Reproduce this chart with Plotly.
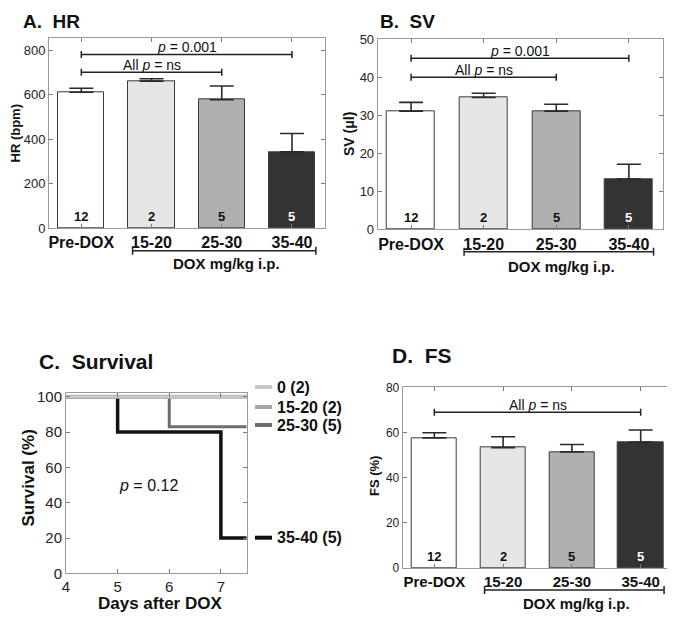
import plotly.graph_objects as go

# ---------------- data ----------------
categories = ["Pre-DOX", "15-20", "25-30", "35-40"]
n_animals = [12, 2, 5, 5]
bar_colors = ["#ffffff", "#e6e6e6", "#b0b0b0", "#333333"]
n_text_colors = ["#111111", "#111111", "#111111", "#ffffff"]

hr_mean = [612, 662, 578, 343]
hr_err = [18, 11, 62, 83]

sv_mean = [31.1, 34.7, 31.1, 13.2]
sv_err = [2.3, 1.1, 1.8, 3.9]

fs_mean = [57.6, 53.3, 51.4, 55.8]
fs_err = [2.3, 4.8, 3.3, 5.3]

surv_groups = ["35-40 (5)", "25-30 (5)", "15-20 (2)", "0 (2)"]
surv_days = [[4, 5, 7, 7.5], [4, 6, 7.5], [4, 7.5], [4, 7.5]]
surv_pct = [[100, 80, 20, 20], [100, 83, 83], [100, 100], [100, 100]]
surv_colors = ["#111111", "#6e6e6e", "#a6a6a6", "#c8c8c8"]
surv_widths = [3.5, 3, 4, 3]

# brackets: (from index, to index, y value, label)
hr_brackets = [(0, 3, 782, "<i>p</i> = 0.001"), (0, 2, 702, "All <i>p</i> = ns")]
sv_brackets = [(0, 3, 45, "<i>p</i> = 0.001"), (0, 2, 40, "All <i>p</i> = ns")]
fs_brackets = [(0, 3, 69, "All <i>p</i> = ns")]

FONT = "Liberation Sans, Arial, Helvetica, sans-serif"
xs = list(range(len(categories)))

# page body has an 8px default margin: size the figure so it fits the window
OFF = 8
W = 675 - OFF
H = 617 - OFF


def px2x(px):
    return (px - OFF) / W


def px2y(py):
    return 1 - (py - OFF) / H


def dom(x0, x1, y0, y1):
    return dict(x=[px2x(x0), px2x(x1)], y=[px2y(y1), px2y(y0)])


fig = go.Figure()

domains = {
    "A": dom(49, 325, 38.3, 228),
    "B": dom(377.7, 663, 39.3, 229.3),
    "C": dom(66, 246.7, 393.3, 573.3),
    "D": dom(402.7, 673, 387.3, 568),
}

FRAME = "#9a9a9a"
TICKC = "#7a7a7a"


def axis_common(**kw):
    d = dict(showline=True, linecolor=FRAME, linewidth=1, mirror="ticks",
             ticks="inside", ticklen=4, tickcolor=TICKC, showgrid=False,
             zeroline=False, fixedrange=True, automargin=False)
    d.update(kw)
    return d


def bar_panel(xa, ya, means, errs, brackets, ymax, tickvals, yfs, cat_fs,
              dm, bracket_py, dox_text_px):
    fig.add_trace(go.Bar(
        x=xs, y=means, width=0.66,
        marker=dict(color=bar_colors, line=dict(color="#3a3a3a", width=1)),
        error_y=dict(type="data", array=errs, arrayminus=[0] * len(errs),
                     symmetric=False, color="#2a2a2a", thickness=1.6, width=12),
        xaxis=xa, yaxis=ya, showlegend=False, hoverinfo="skip"))
    xn = "xaxis" + xa[1:]
    yn = "yaxis" + ya[1:]
    fig.layout[xn] = axis_common(domain=dm["x"], range=[-0.46, 3.47],
                                 tickvals=xs, ticktext=categories, anchor=ya,
                                 tickfont=dict(family=FONT, size=cat_fs, color="#111", weight="bold"))
    fig.layout[yn] = axis_common(domain=dm["y"], range=[0, ymax], tickvals=tickvals,
                                 anchor=xa, tickfont=dict(family=FONT, size=yfs, color="#222"))
    # n labels inside bars
    for i, n in enumerate(n_animals):
        fig.add_annotation(x=xs[i], y=0, xref=xa, yref=ya, text=f"<b>{n}</b>",
                           showarrow=False, yanchor="bottom", yshift=2,
                           font=dict(family=FONT, size=13, color=n_text_colors[i]))
    # significance brackets
    for (i0, i1, yv, lab) in brackets:
        fig.add_shape(type="line", x0=xs[i0], x1=xs[i1], y0=yv, y1=yv, xref=xa, yref=ya,
                      line=dict(color="#222", width=1.5))
        for xi in (xs[i0], xs[i1]):
            fig.add_shape(type="line", x0=xi, x1=xi, y0=-3.5, y1=3.5, xref=xa, yref=ya,
                          ysizemode="pixel", yanchor=yv, line=dict(color="#222", width=1.5))
        fig.add_annotation(x=(xs[i0] + xs[i1]) / 2, y=yv, xref=xa, yref=ya, text=lab,
                           showarrow=False, yanchor="bottom", yshift=-3,
                           font=dict(family=FONT, size=14, color="#111"))
    # DOX bracket below axis
    bx0 = xs[1] - 0.27
    bx1 = xs[3] + 0.34
    by = px2y(bracket_py)
    fig.add_shape(type="line", x0=bx0, x1=bx1, y0=by, y1=by,
                  xref=xa, yref="paper", line=dict(color="#222", width=1.5))
    for xi in (bx0, bx1):
        fig.add_shape(type="line", x0=xi, x1=xi, y0=by - 4 / H, y1=by + 4 / H,
                      xref=xa, yref="paper", line=dict(color="#222", width=1.5))
    fig.add_annotation(x=px2x(dox_text_px[0]), y=px2y(dox_text_px[1]), xref="paper", yref="paper",
                       text="<b>DOX mg/kg i.p.</b>", showarrow=False,
                       xanchor="center", yanchor="middle",
                       font=dict(family=FONT, size=15, color="#111"))


bar_panel("x", "y", hr_mean, hr_err, hr_brackets, 855, [0, 200, 400, 600, 800], 13, 16,
          domains["A"], 250.7, (226.7, 264))
bar_panel("x2", "y2", sv_mean, sv_err, sv_brackets, 50, [0, 10, 20, 30, 40, 50], 13, 16,
          domains["B"], 251.7, (561.7, 266.7))
bar_panel("x4", "y4", fs_mean, fs_err, fs_brackets, 80, [0, 20, 40, 60, 80], 12, 15,
          domains["D"], 590, (576.7, 603))

# ---------------- survival panel ----------------
for g, dx, py, c, w in zip(surv_groups, surv_days, surv_pct, surv_colors, surv_widths):
    fig.add_trace(go.Scatter(x=dx, y=py, mode="lines", line=dict(color=c, width=w, shape="hv"),
                             xaxis="x3", yaxis="y3", showlegend=False, hoverinfo="skip",
                             cliponaxis=False))
fig.layout["xaxis3"] = axis_common(domain=domains["C"]["x"], range=[4, 7.5], tickvals=[4, 5, 6, 7],
                                   anchor="y3", tickfont=dict(family=FONT, size=15, color="#222"))
fig.layout["yaxis3"] = axis_common(domain=domains["C"]["y"], range=[0, 102],
                                   tickvals=[0, 20, 40, 60, 80, 100], anchor="x3",
                                   tickfont=dict(family=FONT, size=15, color="#222"))
fig.add_annotation(x=5.6, y=50, xref="x3", yref="y3", text="<i>p</i> = 0.12", showarrow=False,
                   font=dict(family=FONT, size=16, color="#111"))

# survival legend (right side), positions in reference pixels
leg_order = ["0 (2)", "15-20 (2)", "25-30 (5)", "35-40 (5)"]
leg_py = [387, 407, 425, 537.7]
for name, lpy in zip(leg_order, leg_py):
    k = surv_groups.index(name)
    ly = px2y(lpy)
    fig.add_shape(type="line", x0=px2x(255), x1=px2x(272), y0=ly, y1=ly, xref="paper", yref="paper",
                  line=dict(color=surv_colors[k], width=4))
    fig.add_annotation(x=px2x(274.5), y=ly, xref="paper", yref="paper", text=f"<b>{name}</b>",
                       showarrow=False, xanchor="left", yanchor="middle",
                       font=dict(family=FONT, size=16, color="#111"))

# ---------------- titles ----------------
titles = [("A.  HR", 21, 21.5, 19), ("B.  SV", 378, 21.5, 19),
          ("C.  Survival", 37, 361, 21), ("D.  FS", 390, 355.5, 21)]
for t, x, y, s in titles:
    fig.add_annotation(x=px2x(x), y=px2y(y), xref="paper", yref="paper", text=f"<b>{t}</b>",
                       showarrow=False, xanchor="left", yanchor="middle",
                       font=dict(family=FONT, size=s, color="#111"))

ytitles = [("HR (bpm)", 15.5, 133, 13), ("SV (μl)", 349, 134, 14),
           ("Survival (%)", 28, 478.5, 17), ("FS (%)", 375, 476, 13)]
for t, x, y, s in ytitles:
    fig.add_annotation(x=px2x(x), y=px2y(y), xref="paper", yref="paper", text=f"<b>{t}</b>",
                       showarrow=False, textangle=-90, xanchor="center", yanchor="middle",
                       font=dict(family=FONT, size=s, color="#111"))
fig.add_annotation(x=px2x(160), y=px2y(603), xref="paper", yref="paper", text="<b>Days after DOX</b>",
                   showarrow=False, xanchor="center", yanchor="middle",
                   font=dict(family=FONT, size=17, color="#111"))

fig.update_layout(width=W, height=H, margin=dict(l=0, r=0, t=0, b=0, autoexpand=False),
                  paper_bgcolor="white", plot_bgcolor="white", bargap=0,
                  font=dict(family=FONT))

fig.write_html("out.html")
